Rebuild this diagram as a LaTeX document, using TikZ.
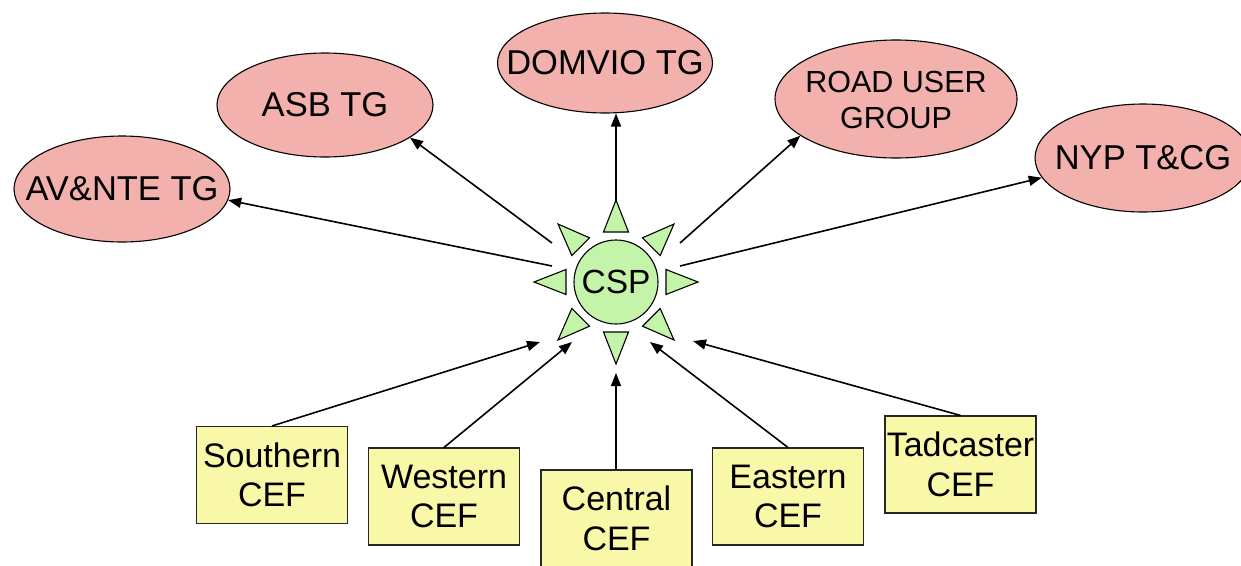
\documentclass[tikz,border=0pt]{standalone}
\usepackage{fontspec}
\setmainfont{Liberation Sans}
\usetikzlibrary{shapes.geometric,arrows.meta}
\definecolor{tgpink}{RGB}{242,177,172}
\definecolor{cefyellow}{RGB}{248,248,168}
\definecolor{sungreen}{RGB}{196,244,170}
\begin{document}
\begin{tikzpicture}[x=1pt,y=-1pt,
  tg/.style={ellipse, draw=black, line width=1.1pt, fill=tgpink, inner sep=0pt,
    minimum width=216pt, minimum height=106pt, font=\fontsize{34.5}{38}\selectfont},
  cef/.style={rectangle, draw=black!85, line width=1.1pt, fill=cefyellow, inner sep=0pt,
    minimum width=151pt, minimum height=97pt, align=center, font=\fontsize{34}{39.5}\selectfont},
  link/.style={-{Triangle[length=13pt,width=10pt]}, line width=1.6pt},
  ray/.style={fill=sungreen, draw=black, line width=1.1pt, line join=miter}]
\useasboundingbox (0,0) rectangle (1241,565);

% target groups
\node[tg] (avnte) at (122,189) {\makebox[0pt]{AV\&NTE TG}};
\node[tg, minimum height=104pt] (asb) at (325,105) {\makebox[0pt]{ASB TG}};
\node[tg, minimum width=215pt, minimum height=100pt] (domvio) at (605,63) {\makebox[0pt]{DOMVIO TG}};
\node[tg, minimum width=242pt, minimum height=118pt, font=\fontsize{30.5}{36}\selectfont] (road) at (896,99)
  {\makebox[0pt]{\raisebox{-4pt}[\height][\depth]{\begin{tabular}{@{}c@{}}ROAD USER\\GROUP\end{tabular}}}};
\node[tg, minimum height=108pt] (nyp) at (1143,158) {\makebox[0pt]{NYP T\&CG}};

% sun
\foreach \a in {0,45,...,315}
  \draw[ray, shift={(616,282)}, rotate=\a] (50,-12.5) -- (82,0) -- (50,12.5) -- cycle;
\node[circle, draw=black, line width=1.1pt, fill=sungreen, minimum size=84pt, inner sep=0pt,
  font=\fontsize{33.5}{36}\selectfont] (csp) at (616,282) {CSP};

% forums
\node[cef] (south) at (272,475) {Southern\\CEF};
\node[cef] (west) at (444,496.5) {Western\\CEF};
\node[cef] (central) at (616.5,518.5) {Central\\CEF};
\node[cef] (east) at (788,496.5) {Eastern\\CEF};
\node[cef] (tad) at (960.5,464.5) {Tadcaster\\CEF};

% connector ends near the sun
\coordinate (sAV) at (552,266);
\coordinate (sASB) at (552,243);
\coordinate (sDOM) at (616,202);
\coordinate (sROAD) at (680,243);
\coordinate (sNYP) at (680,266);
\coordinate (eS) at (540,342);
\coordinate (eW) at (572,342);
\coordinate (eC) at (616,373);
\coordinate (eE) at (650,342);
\coordinate (eT) at (693,341);

\draw[link] (sAV) -- (avnte.-6);
\draw[link] (sASB) -- (asb.-21);
\draw[link] (sDOM) -- (sDOM |- domvio.south);
\draw[link] (sROAD) -- (road.-159);
\draw[link] (sNYP) -- (nyp.-169);

\draw[link] (south.north) -- (eS);
\draw[link] (west.north) -- (eW);
\draw[link] (central.north -| eC) -- (eC);
\draw[link] (east.north) -- (eE);
\draw[link] (tad.north) -- (eT);
\end{tikzpicture}
\end{document}
